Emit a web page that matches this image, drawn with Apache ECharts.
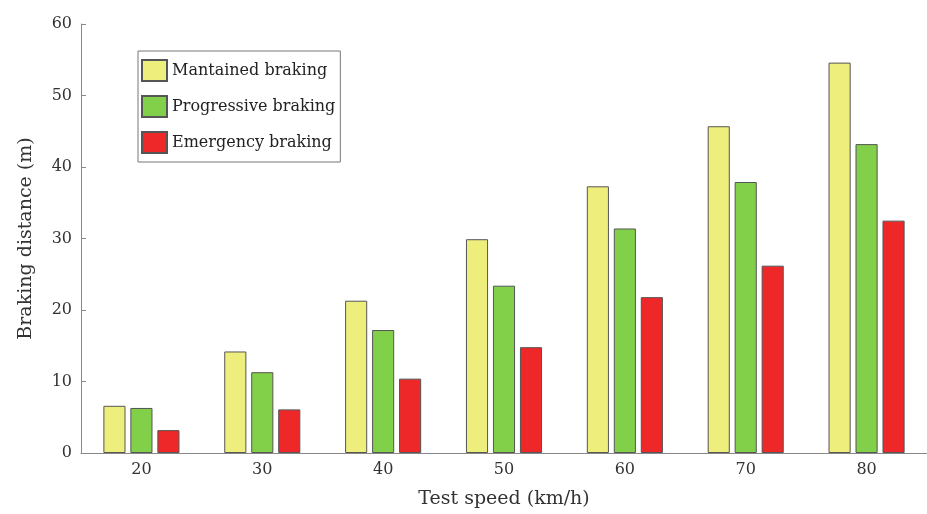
<!DOCTYPE html>
<html><head><meta charset="utf-8">
<script src="https://cdn.jsdelivr.net/npm/echarts@6/dist/echarts.min.js"></script>
<style>html,body{margin:0;padding:0;background:#fff}#c{width:927px;height:514px}</style>
</head><body><div id="c"></div>
<script>
const categories = ['20','30','40','50','60','70','80'];
const maintained = [6.6, 14.2, 21.3, 29.9, 37.3, 45.7, 54.6];
const progressive = [6.3, 11.3, 17.2, 23.4, 31.4, 37.9, 43.2];
const emergency = [3.2, 6.1, 10.4, 14.8, 21.8, 26.2, 32.5];
const seriesNames = ['Mantained braking', 'Progressive braking', 'Emergency braking'];
const colors = ['#EEEE7D', '#82D04A', '#EE2828'];

const FONT = 'DejaVu Serif';
const chart = echarts.init(document.getElementById('c'), null, {renderer: 'canvas'});
const mk = (name, data, color) => ({
  name, type: 'bar', data, barWidth: '18.3%', barGap: '22%',
  itemStyle: {color, borderColor: '#555', borderWidth: 1}
});
chart.setOption({
  animation: false,
  textStyle: {fontFamily: FONT},
  grid: {left: 81, right: 0, top: 24, bottom: 61},
  legend: {
    orient: 'vertical', left: 138, top: 51, icon: 'rect',
    padding: [8, 5, 8, 3], itemGap: 13, itemWidth: 25, itemHeight: 21,
    borderColor: '#777', borderWidth: 1, backgroundColor: '#fff',
    textStyle: {fontFamily: FONT, fontSize: 16, color: '#222'},
    data: seriesNames
  },
  xAxis: {
    type: 'category', data: categories, boundaryGap: true, z: 5,
    name: 'Test speed (km/h)', nameLocation: 'middle', nameGap: 37,
    nameTextStyle: {fontFamily: FONT, fontSize: 19, color: '#333'},
    axisLine: {lineStyle: {color: '#888'}},
    axisTick: {inside: true, alignWithLabel: true, length: 5, lineStyle: {color: '#555'}},
    axisLabel: {fontFamily: FONT, fontSize: 16, color: '#333', margin: 9}
  },
  yAxis: {
    type: 'value', min: 0, max: 60, interval: 10,
    name: 'Braking distance (m)', nameLocation: 'middle', nameGap: 45,
    nameTextStyle: {fontFamily: FONT, fontSize: 19, color: '#333'},
    axisLine: {show: true, lineStyle: {color: '#888'}},
    axisTick: {show: true, inside: true, length: 5, lineStyle: {color: '#888'}},
    splitLine: {show: false},
    axisLabel: {fontFamily: FONT, fontSize: 16, color: '#333', margin: 9}
  },
  series: [
    mk(seriesNames[0], maintained, colors[0]),
    mk(seriesNames[1], progressive, colors[1]),
    mk(seriesNames[2], emergency, colors[2])
  ]
});
</script></body></html>
